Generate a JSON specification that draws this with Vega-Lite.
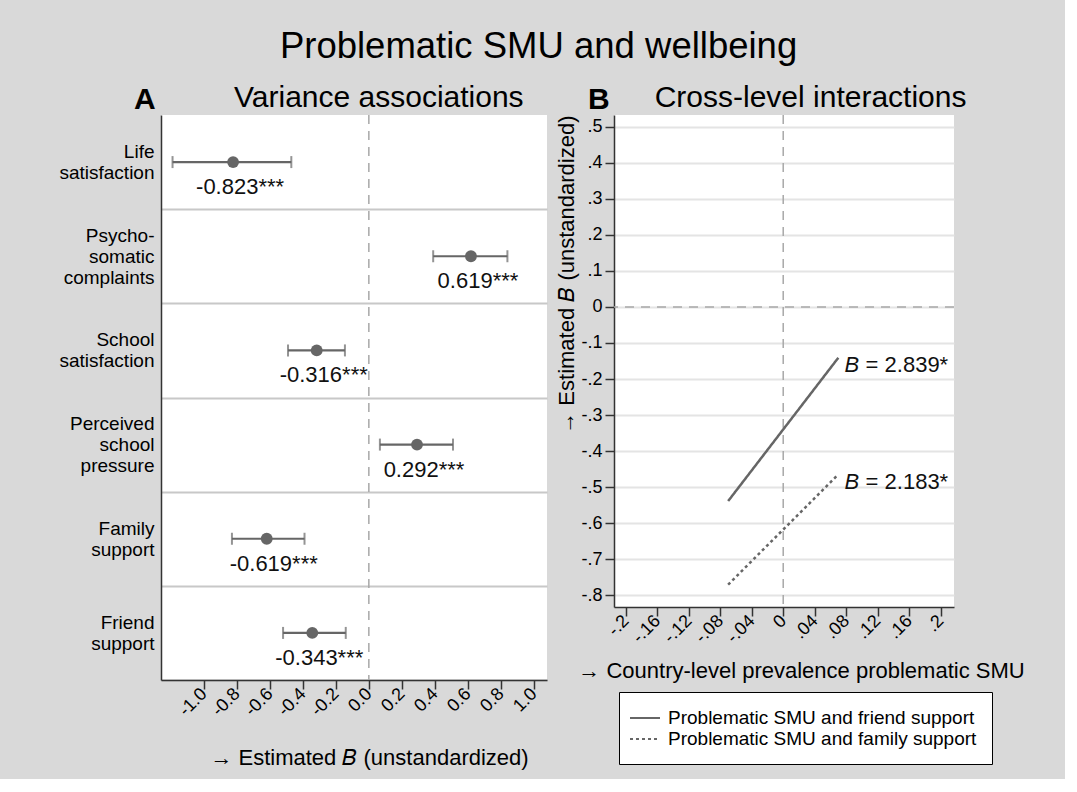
{
  "$schema": "https://vega.github.io/schema/vega-lite/v6.json",
  "background": "#d9d9d9",
  "padding": {"left": 58, "top": 28, "right": 40, "bottom": 10},
  "config": {
    "font": "Liberation Sans",
    "view": {"stroke": null, "fill": "white"},
    "concat": {"spacing": 8},
    "axis": {
      "labelFont": "Liberation Sans",
      "titleFont": "Liberation Sans",
      "labelColor": "black",
      "titleColor": "black",
      "titleFontWeight": "normal",
      "domainColor": "#333333",
      "domainWidth": 1.5,
      "tickColor": "#333333",
      "tickWidth": 1.5,
      "labelOverlap": false
    },
    "text": {"font": "Liberation Sans"}
  },
  "title": {
    "text": "Problematic SMU and wellbeing",
    "fontSize": 36.5,
    "fontWeight": "normal",
    "font": "Liberation Sans",
    "color": "black",
    "anchor": "middle",
    "dx": -3,
    "offset": 18
  },
  "resolve": {"scale": {"strokeDash": "independent"}, "legend": {"strokeDash": "independent"}},
  "hconcat": [
    {
      "width": 386,
      "height": 565,
      "title": {
        "text": "A",
        "subtitle": "\u200b\u00a0\u00a0\u00a0\u00a0\u00a0\u00a0\u00a0\u00a0\u00a0\u00a0\u00a0\u00a0Variance associations",
        "anchor": "start",
        "frame": "group",
        "dx": -27,
        "fontSize": 30,
        "fontWeight": "bold",
        "color": "black",
        "font": "Liberation Sans",
        "subtitleFont": "Liberation Sans",
        "subtitleFontSize": 30,
        "subtitleColor": "black",
        "subtitlePadding": -32,
        "offset": -11
      },
      "data": {
        "values": [
          {"outcome": "Life|satisfaction", "est": -0.823, "lo": -1.19, "hi": -0.47, "label": "-0.823***"},
          {"outcome": "Psycho-|somatic|complaints", "est": 0.619, "lo": 0.39, "hi": 0.84, "label": "0.619***"},
          {"outcome": "School|satisfaction", "est": -0.316, "lo": -0.49, "hi": -0.145, "label": "-0.316***"},
          {"outcome": "Perceived|school|pressure", "est": 0.292, "lo": 0.067, "hi": 0.51, "label": "0.292***"},
          {"outcome": "Family|support", "est": -0.619, "lo": -0.83, "hi": -0.39, "label": "-0.619***"},
          {"outcome": "Friend|support", "est": -0.343, "lo": -0.52, "hi": -0.14, "label": "-0.343***"}
        ]
      },
      "layer": [
        {
          "data": {"values": [{}]},
          "mark": {"type": "rule", "strokeDash": [9, 7], "color": "#a8a8a8", "strokeWidth": 1.5},
          "encoding": {"x": {"datum": 0, "type": "quantitative"}}
        },
        {
          "mark": {"type": "rule", "color": "#666666", "strokeWidth": 2.2},
          "encoding": {
            "y": {
              "field": "outcome", "type": "nominal", "sort": null,
              "scale": {"type": "band", "paddingInner": 0, "paddingOuter": 0},
              "axis": {
                "title": null,
                "labelExpr": "split(datum.label, '|')",
                "labelFontSize": 19,
                "labelLineHeight": 21,
                "labelPadding": 7,
                "labelOverlap": false,
                "labelOffset": {"condition": {"test": "length(split(datum.value, '|')) == 3", "value": -21}, "value": -10.5},
                "ticks": false,
                "grid": true,
                "tickBand": "extent",
                "gridColor": "#c8c8c8",
                "gridWidth": 2,
                "gridOpacity": {"condition": {"test": "datum.extra || datum.value == null", "value": 0}, "value": 1}
              }
            },
            "x": {
              "field": "lo", "type": "quantitative",
              "scale": {"domain": [-1.26, 1.08], "nice": false, "zero": false},
              "axis": {
                "title": "\u2192 Estimated \ud835\udc35 (unstandardized)",
                "titleFontSize": 22,
                "titlePadding": 28,
                "titleX": 208,
                "values": [-1, -0.8, -0.6, -0.4, -0.2, 0, 0.2, 0.4, 0.6, 0.8, 1],
                "tickCount": 30,
                "format": ".1f",
                "labelExpr": "replace(datum.label, '\u2212', '-')",
                "labelOverlap": false,
                "labelAngle": -45,
                "labelAlign": "right",
                "labelBaseline": "middle",
                "labelFontSize": 18,
                "tickSize": 9,
                "grid": false
              }
            },
            "x2": {"field": "hi"}
          }
        },
        {
          "mark": {"type": "tick", "color": "#666666", "thickness": 2, "size": 12, "orient": "vertical"},
          "encoding": {
            "y": {"field": "outcome", "type": "nominal", "sort": null},
            "x": {"field": "lo", "type": "quantitative"}
          }
        },
        {
          "mark": {"type": "tick", "color": "#666666", "thickness": 2, "size": 12, "orient": "vertical"},
          "encoding": {
            "y": {"field": "outcome", "type": "nominal", "sort": null},
            "x": {"field": "hi", "type": "quantitative"}
          }
        },
        {
          "mark": {"type": "circle", "color": "#666666", "opacity": 1, "size": 140},
          "encoding": {
            "y": {"field": "outcome", "type": "nominal", "sort": null},
            "x": {"field": "est", "type": "quantitative"}
          }
        },
        {
          "mark": {"type": "text", "fontSize": 22, "color": "#111111", "dy": 25, "dx": 7, "align": "center", "baseline": "middle"},
          "encoding": {
            "y": {"field": "outcome", "type": "nominal", "sort": null},
            "x": {"field": "est", "type": "quantitative"},
            "text": {"field": "label"}
          }
        }
      ]
    },
    {
      "width": 340,
      "height": 492,
      "title": {
        "text": "B",
        "subtitle": "\u200b\u00a0\u00a0\u00a0\u00a0\u00a0\u00a0\u00a0\u00a0Cross-level interactions",
        "anchor": "start",
        "frame": "group",
        "dx": -26,
        "fontSize": 30,
        "fontWeight": "bold",
        "color": "black",
        "font": "Liberation Sans",
        "subtitleFont": "Liberation Sans",
        "subtitleFontSize": 30,
        "subtitleColor": "black",
        "subtitlePadding": -32,
        "offset": -3
      },
      "layer": [
        {
          "data": {"values": [{}]},
          "mark": {"type": "rule", "strokeDash": [9, 7], "color": "#a8a8a8", "strokeWidth": 1.5},
          "encoding": {"x": {"datum": 0, "type": "quantitative"}}
        },
        {
          "data": {"values": [{}]},
          "mark": {"type": "rule", "strokeDash": [9, 7], "color": "#a8a8a8", "strokeWidth": 1.5},
          "encoding": {"y": {"datum": 0, "type": "quantitative"}}
        },
        {
          "data": {
            "values": [
              {"series": "Problematic SMU and friend support", "x": -0.07, "y": -0.539},
              {"series": "Problematic SMU and friend support", "x": 0.07, "y": -0.141},
              {"series": "Problematic SMU and family support", "x": -0.07, "y": -0.771},
              {"series": "Problematic SMU and family support", "x": 0.07, "y": -0.465}
            ]
          },
          "mark": {"type": "line", "color": "#666666", "strokeWidth": 2.5},
          "encoding": {
            "x": {
              "field": "x", "type": "quantitative",
              "scale": {"domain": [-0.215, 0.217], "nice": false, "zero": false},
              "axis": {
                "title": "\u2192 Country-level prevalence problematic SMU",
                "titleFontSize": 22,
                "titlePadding": 14,
                "titleX": 187,
                "values": [-0.2, -0.16, -0.12, -0.08, -0.04, 0, 0.04, 0.08, 0.12, 0.16, 0.2],
                "tickCount": 30,
                "labelExpr": "datum.value == 0 ? '0' : (datum.value < 0 ? '-' : '') + slice(format(abs(datum.value), '.2~f'), 1)",
                "labelOverlap": false,
                "labelAngle": -45,
                "labelAlign": "right",
                "labelBaseline": "middle",
                "labelFontSize": 18,
                "tickSize": 9,
                "grid": false
              }
            },
            "y": {
              "field": "y", "type": "quantitative",
              "scale": {"domain": [-0.833, 0.533], "nice": false, "zero": false},
              "axis": {
                "title": "\u2192 Estimated \ud835\udc35 (unstandardized)",
                "titleFontSize": 22,
                "titleAnchor": "end",
                "titlePadding": 2,
                "values": [-0.8, -0.7, -0.6, -0.5, -0.4, -0.3, -0.2, -0.1, 0, 0.1, 0.2, 0.3, 0.4, 0.5],
                "tickCount": 30,
                "labelExpr": "datum.value == 0 ? '0' : (datum.value < 0 ? '-' : '') + slice(format(abs(datum.value), '.2~f'), 1)",
                "labelOverlap": false,
                "labelFontSize": 18,
                "labelPadding": 3,
                "tickSize": 9,
                "grid": true,
                "gridColor": "#e4e4e4",
                "gridWidth": 2
              }
            },
            "strokeDash": {
              "field": "series", "type": "nominal", "sort": null,
              "scale": {
                "domain": ["Problematic SMU and friend support", "Problematic SMU and family support"],
                "range": [[1, 0], [3, 3]]
              },
              "legend": {
                "title": null,
                "orient": "none",
                "legendX": 5,
                "legendY": 577,
                "fillColor": "white",
                "strokeColor": "black",
                "padding": 15,
                "labelFontSize": 19,
                "labelColor": "black",
                "labelFont": "Liberation Sans",
                "labelLimit": 400,
                "labelOffset": 12,
                "symbolType": "M-1.5,0L1.5,0",
                "symbolSize": 400,
                "symbolStrokeWidth": 2,
                "symbolStrokeColor": "#666666",
                "symbolFillColor": "transparent",
                "rowPadding": 0
              }
            }
          }
        },
        {
          "data": {
            "values": [
              {"x": 0.078, "y": -0.16, "rest": "= 2.839*"},
              {"x": 0.078, "y": -0.485, "rest": "= 2.183*"}
            ]
          },
          "layer": [
            {
              "mark": {"type": "text", "fontSize": 22, "fontStyle": "italic", "color": "#111111", "align": "left", "baseline": "middle"},
              "encoding": {
                "x": {"field": "x", "type": "quantitative"},
                "y": {"field": "y", "type": "quantitative"},
                "text": {"value": "B"}
              }
            },
            {
              "mark": {"type": "text", "fontSize": 22, "color": "#111111", "align": "left", "baseline": "middle", "dx": 21},
              "encoding": {
                "x": {"field": "x", "type": "quantitative"},
                "y": {"field": "y", "type": "quantitative"},
                "text": {"field": "rest"}
              }
            }
          ]
        }
      ]
    }
  ]
}
